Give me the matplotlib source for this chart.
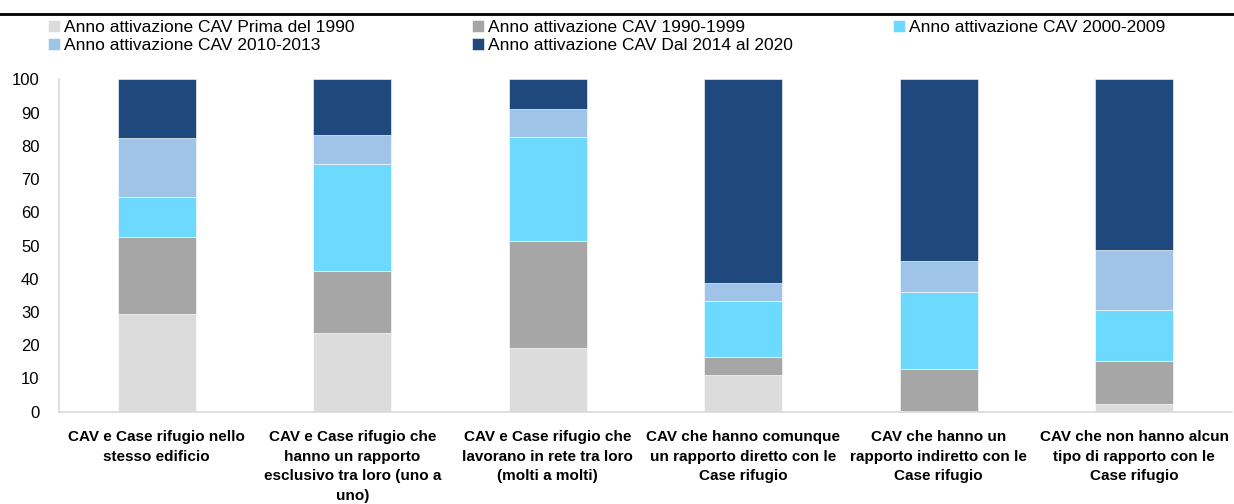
import matplotlib.pyplot as plt
import numpy as np
from matplotlib.lines import Line2D

plt.rcParams['font.family'] = ['Liberation Sans', 'DejaVu Sans']

# Data
categories = [
    "CAV e Case rifugio nello\nstesso edificio",
    "CAV e Case rifugio che\nhanno un rapporto\nesclusivo tra loro (uno a\nuno)",
    "CAV e Case rifugio che\nlavorano in rete tra loro\n(molti a molti)",
    "CAV che hanno comunque\nun rapporto diretto con le\nCase rifugio",
    "CAV che hanno un\nrapporto indiretto con le\nCase rifugio",
    "CAV che non hanno alcun\ntipo di rapporto con le\nCase rifugio",
]
series_names = [
    "Anno attivazione CAV Prima del 1990",
    "Anno attivazione CAV 1990-1999",
    "Anno attivazione CAV 2000-2009",
    "Anno attivazione CAV 2010-2013",
    "Anno attivazione CAV Dal 2014 al 2020",
]
prima_1990 = [29.3, 23.6, 19.3, 11.0, 0.3, 2.4]
anni_1990_1999 = [23.4, 18.6, 32.2, 5.6, 12.4, 12.8]
anni_2000_2009 = [12.0, 32.3, 31.0, 16.7, 23.3, 15.5]
anni_2010_2013 = [17.6, 8.6, 8.5, 5.5, 9.3, 17.9]
anni_2014_2020 = [17.7, 16.9, 9.0, 61.2, 54.7, 51.4]

series = [prima_1990, anni_1990_1999, anni_2000_2009, anni_2010_2013, anni_2014_2020]
colors = ["#DCDCDC", "#A6A6A6", "#6DD9FF", "#9FC4E8", "#1F497D"]

W, H = 1234, 504
fig = plt.figure(figsize=(W / 100, H / 100), dpi=100)
ax = fig.add_axes([59 / W, 92.3 / H, (1232 - 59) / W, (411.7 - 79.3) / H])

x = np.arange(len(categories))
bottom = np.zeros(len(categories))
handles = []
for name, vals, col in zip(series_names, series, colors):
    bars = ax.bar(x, vals, 0.4, bottom=bottom, color=col, edgecolor="white",
                  linewidth=0.4, label=name)
    handles.append(bars)
    bottom += np.array(vals)

ax.set_xlim(-0.5, len(categories) - 0.5)
ax.set_ylim(0, 100)
ax.set_yticks(range(0, 101, 10))
ax.tick_params(axis="y", length=0, labelsize=12, pad=14)
ax.tick_params(axis="x", length=0, pad=13.5)
ax.set_xticks(x)
ax.set_xticklabels(categories, fontsize=11, fontweight="bold", linespacing=1.5)

for s in ["top", "right"]:
    ax.spines[s].set_visible(False)
for s in ["left", "bottom"]:
    ax.spines[s].set_color("#D9D9D9")
    ax.spines[s].set_linewidth(1.2)

# legend: three columns, placed by hand
columns = [([0, 3], 48), ([1, 4], 472), ([2], 893)]
for idx, xpos in columns:
    fig.legend([handles[i] for i in idx], [series_names[i] for i in idx],
               loc="upper left", bbox_to_anchor=(xpos / W, 1 - 20 / H), ncol=1,
               frameon=False, fontsize=12.5, handlelength=0.7, handleheight=0.7,
               handletextpad=0.2, labelspacing=0.15, borderpad=0, borderaxespad=0)

# top rule
fig.add_artist(Line2D([0, 1], [1 - 14 / H, 1 - 14 / H], color="black", linewidth=2,
                      transform=fig.transFigure))

fig.savefig("out.png", dpi=100)
